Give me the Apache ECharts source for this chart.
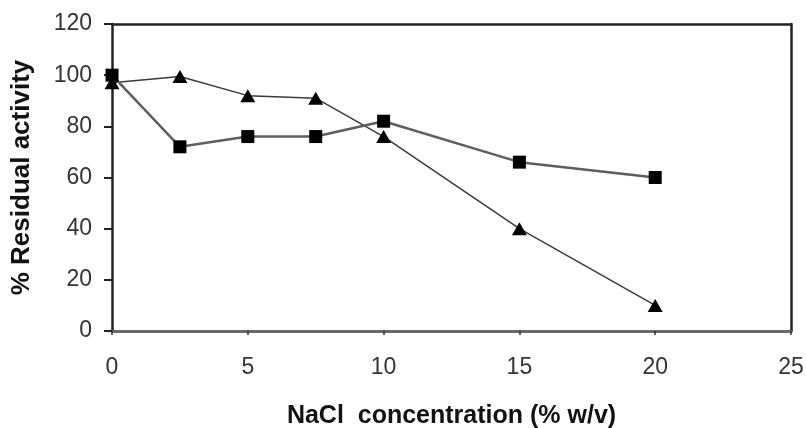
<!DOCTYPE html>
<html>
<head>
<meta charset="utf-8">
<script src="https://cdn.jsdelivr.net/npm/echarts@6/dist/echarts.min.js"></script>
<style>html,body{margin:0;padding:0;background:#fff}#c{width:806px;height:428px}</style>
</head>
<body>
<div id="c"></div>
<script>
var nacl = [0, 2.5, 5, 7.5, 10, 15, 20];
var squareSeries = [100, 72, 76, 76, 82, 66, 60];
var triangleSeries = [97, 99.5, 92, 91, 76, 40, 10];
var xTicks = [0, 5, 10, 15, 20, 25];
var yTicks = [0, 20, 40, 60, 80, 100, 120];

function pairs(xs, ys) { return xs.map(function (x, i) { return [x, ys[i]]; }); }

var chart = echarts.init(document.getElementById('c'), null, {renderer: 'canvas'});
var font = '"Liberation Sans", Arial, sans-serif';
chart.setOption({
  animation: false,
  backgroundColor: '#fff',
  grid: {left: 112, right: 15, top: 24, bottom: 97, containLabel: false, outerBoundsMode: 'none'},
  xAxis: [{
    type: 'value', min: xTicks[0], max: xTicks[xTicks.length - 1], interval: 5,
    name: 'NaCl  concentration (% w/v)', nameLocation: 'middle', nameGap: 73,
    nameTextStyle: {fontFamily: font, fontWeight: 'bold', fontSize: 25, color: '#111'},
    axisLine: {show: true, onZero: false, lineStyle: {color: '#6a6a6a', width: 3}},
    axisTick: {show: true, inside: false, length: 4, lineStyle: {color: '#333', width: 1.5}},
    axisLabel: {fontFamily: font, fontSize: 23, color: '#333', margin: 25},
    splitLine: {show: false}
  }, {
    type: 'value', position: 'top', min: 0, max: 25,
    axisLine: {show: true, onZero: false, lineStyle: {color: '#222', width: 2.5}},
    axisTick: {show: false}, axisLabel: {show: false}, splitLine: {show: false}
  }],
  yAxis: [{
    type: 'value', min: yTicks[0], max: yTicks[yTicks.length - 1], interval: 20,
    name: '% Residual activity', nameLocation: 'middle', nameGap: 77, nameRotate: 90,
    nameTextStyle: {fontFamily: font, fontWeight: 'bold', fontSize: 26, color: '#111'},
    axisLine: {show: true, onZero: false, lineStyle: {color: '#222', width: 2.5}},
    axisTick: {show: true, inside: false, length: 8, lineStyle: {color: '#222', width: 2}},
    axisLabel: {fontFamily: font, fontSize: 23, color: '#333', margin: 20},
    splitLine: {show: false}
  }, {
    type: 'value', position: 'right', min: 0, max: 120,
    axisLine: {show: true, onZero: false, lineStyle: {color: '#222', width: 2.5}},
    axisTick: {show: false}, axisLabel: {show: false}, splitLine: {show: false}
  }],
  series: [{
    name: 'triangle', type: 'line', data: pairs(nacl, triangleSeries),
    symbol: 'triangle', symbolSize: [15, 13],
    itemStyle: {color: '#000'},
    lineStyle: {color: '#3a3a3a', width: 1.5}
  }, {
    name: 'square', type: 'line', data: pairs(nacl, squareSeries),
    symbol: 'rect', symbolSize: 13,
    itemStyle: {color: '#000'},
    lineStyle: {color: '#5e5e5e', width: 2.5}
  }]
});
</script>
</body>
</html>
